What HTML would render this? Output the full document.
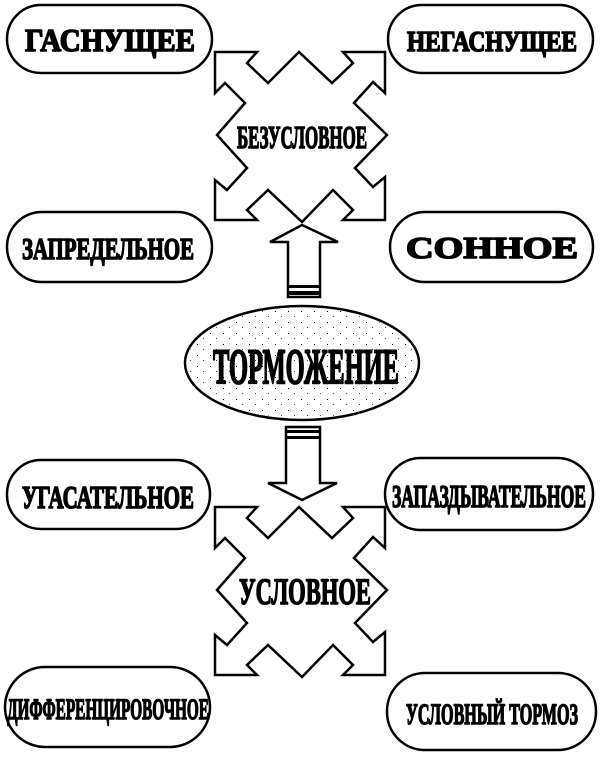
<!DOCTYPE html>
<html><head><meta charset="utf-8"><style>html,body{margin:0;padding:0;background:#fff}svg{display:block}</style></head><body>
<svg width="600" height="758" viewBox="0 0 600 758" xmlns="http://www.w3.org/2000/svg">
<defs>
<pattern id="dots" width="13" height="11" patternUnits="userSpaceOnUse"><rect x="2" y="3" width="1" height="1" fill="#000"/><rect x="8" y="8" width="1" height="1" fill="#444"/></pattern>
<polygon id="cross" points="215,52 257,52 247,63 268,83 299,52 332,83 353,63 343,52 385,52 385,93 373,82 354,103 387,135 355,168 373,187 385,177 385,220 343,220 353,210 333,190 302,222 268,190 247,210 257,220 215,220 215,180 227,190 247,168 217,135 245,103 225,83 215,93" fill="#fff" stroke="#000" stroke-width="2.5" stroke-linejoin="miter"/>
</defs>
<g fill="#fff" stroke="#000" stroke-width="2.5">
<rect x="7" y="5" width="205" height="68" rx="34"/>
<rect x="388" y="5" width="205" height="68" rx="34"/>
<rect x="7" y="212" width="205" height="70" rx="35"/>
<rect x="390" y="212" width="203" height="70" rx="35"/>
<rect x="7" y="460" width="203" height="69" rx="34"/>
<rect x="385" y="458" width="208" height="72" rx="36"/>
<rect x="5" y="667" width="205" height="80" rx="40"/>
<rect x="387" y="673" width="209" height="77" rx="38"/>
</g>
<use href="#cross"/>
<use href="#cross" transform="translate(0,455)"/>
<polygon points="302,225 338,242 320,242 320,297 288,297 288,242 270,242" fill="#fff" stroke="#000" stroke-width="2.5"/>
<rect x="288" y="285" width="32" height="3" fill="#000"/><rect x="288" y="291" width="32" height="4" fill="#000"/>
<polygon points="286,427 320,427 320,483 337,483 302,500 268,483 286,483" fill="#fff" stroke="#000" stroke-width="2.5"/>
<rect x="286" y="430" width="34" height="3" fill="#000"/><rect x="286" y="436" width="34" height="3" fill="#000"/>
<ellipse cx="302" cy="363" rx="117" ry="57" fill="#fff" stroke="#000" stroke-width="2.5"/>
<ellipse cx="302" cy="363" rx="115" ry="55" fill="url(#dots)"/>
<g font-family="'Liberation Serif','Noto Serif CJK SC',serif" font-weight="bold" text-anchor="middle" fill="#000" stroke="#000" stroke-width="1.6" stroke-linejoin="round">
<text x="110" y="51" font-size="32" textLength="170" lengthAdjust="spacingAndGlyphs">ГАСНУЩЕЕ</text>
<text x="492" y="51" font-size="29" textLength="170" lengthAdjust="spacingAndGlyphs">НЕГАСНУЩЕЕ</text>
<text x="108" y="259" font-size="31" textLength="172" lengthAdjust="spacingAndGlyphs">ЗАПРЕДЕЛЬНОЕ</text>
<text x="492" y="258" font-size="31" textLength="172" lengthAdjust="spacingAndGlyphs">СОННОЕ</text>
<text x="302" y="148" font-size="32" textLength="130" lengthAdjust="spacingAndGlyphs">БЕЗУСЛОВНОЕ</text>
<text x="306" y="383" font-size="50" stroke-width="2" textLength="186" lengthAdjust="spacingAndGlyphs">ТОРМОЖЕНИЕ</text>
<text x="108" y="508" font-size="32" textLength="172" lengthAdjust="spacingAndGlyphs">УГАСАТЕЛЬНОЕ</text>
<text x="489" y="507" font-size="32" textLength="194" lengthAdjust="spacingAndGlyphs">ЗАПАЗДЫВАТЕЛЬНОЕ</text>
<text x="305" y="604" font-size="37" textLength="132" lengthAdjust="spacingAndGlyphs">УСЛОВНОЕ</text>
<text x="108" y="719" font-size="30" textLength="202" lengthAdjust="spacingAndGlyphs">ДИФФЕРЕНЦИРОВОЧНОЕ</text>
<text x="492" y="724" font-size="30" textLength="172" lengthAdjust="spacingAndGlyphs">УСЛОВНЫЙ ТОРМОЗ</text>
</g>
</svg>
</body></html>
